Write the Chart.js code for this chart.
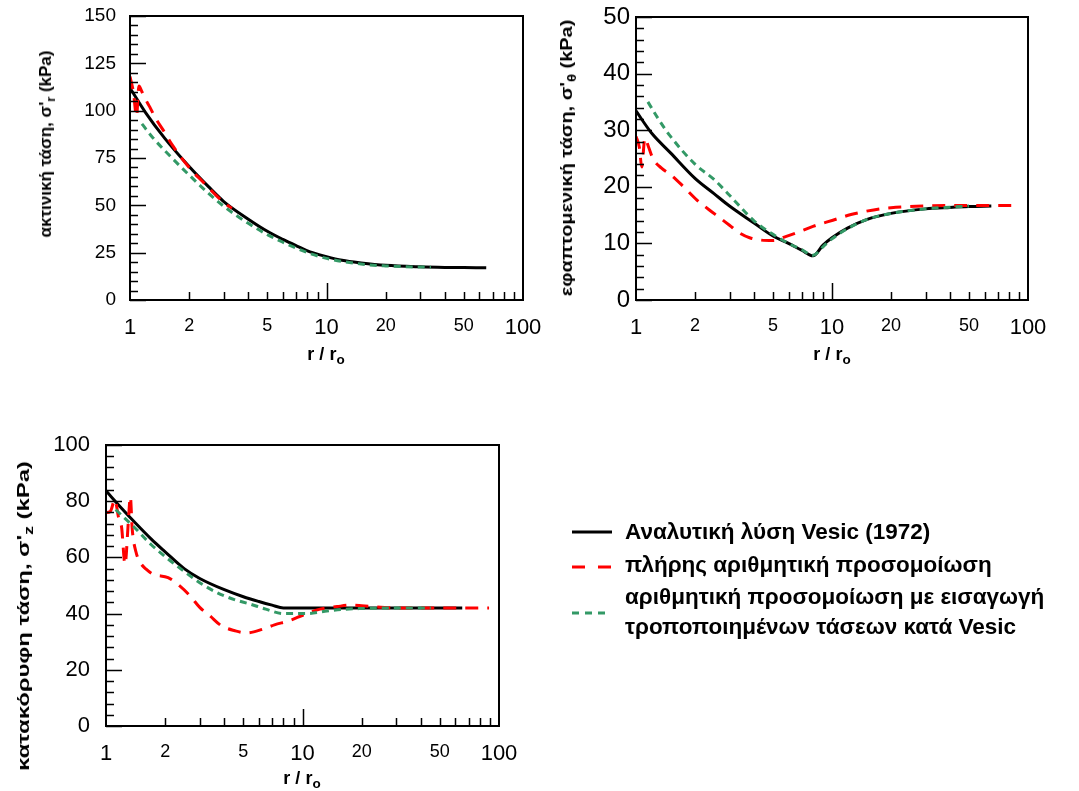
<!DOCTYPE html>
<html><head><meta charset="utf-8">
<script src="https://cdn.jsdelivr.net/npm/chart.js@4.4.0/dist/chart.umd.min.js"></script>
<style>
body{margin:0;background:#fff;width:1079px;height:791px;position:relative;overflow:hidden;font-family:"Liberation Sans",Arial,sans-serif;color:#000;}
.cw{position:absolute;}
.ytitle{position:absolute;font-weight:bold;white-space:nowrap;}
.xtitle{position:absolute;font-weight:bold;white-space:nowrap;transform:translate(-50%,-50%);font-size:18px;}
sub{font-size:0.75em;vertical-align:-0.3em;line-height:0;}
.leg{position:absolute;font-weight:bold;font-size:22.5px;line-height:30px;white-space:nowrap;}
</style></head><body>
<div class="cw" style="left:0;top:0"><canvas id="c1" width="560" height="370"></canvas></div>
<div class="cw" style="left:540px;top:0"><canvas id="c2" width="539" height="370"></canvas></div>
<div class="cw" style="left:0;top:420px"><canvas id="c3" width="540" height="371"></canvas></div>

<div class="ytitle" style="left:46px;top:144px;font-size:17px;transform:translate(-50%,-50%) rotate(-90deg)">ακτινική τάση, σ'<sub>r</sub> (kPa)</div>
<div class="ytitle" style="left:567px;top:158px;font-size:17px;transform:translate(-50%,-50%) rotate(-90deg) scaleX(1.17)">εφαπτομενική τάση, σ'<sub>θ</sub> (kPa)</div>
<div class="ytitle" style="left:24px;top:616px;font-size:17px;transform:translate(-50%,-50%) rotate(-90deg) scaleX(1.4)">κατακόρυφη τάση, σ'<sub>z</sub> (kPa)</div>

<div class="xtitle" style="left:326px;top:354px">r / r<sub>o</sub></div>
<div class="xtitle" style="left:832px;top:354px">r / r<sub>o</sub></div>
<div class="xtitle" style="left:302px;top:778px">r / r<sub>o</sub></div>

<svg style="position:absolute;left:0;top:0" width="1079" height="791">
<line x1="572" y1="532" x2="612" y2="532" stroke="#000" stroke-width="3"/>
<line x1="572" y1="567" x2="612" y2="567" stroke="#ff0000" stroke-width="3" stroke-dasharray="13 13"/>
<line x1="572" y1="613" x2="607" y2="613" stroke="#339966" stroke-width="3" stroke-dasharray="7 6"/>
</svg>
<div class="leg" style="left:625px;top:517px">Αναλυτική λύση Vesic (1972)</div>
<div class="leg" style="left:625px;top:550px">πλήρης αριθμητική προσομοίωση</div>
<div class="leg" style="left:625px;top:582px">αριθμητική προσομοίωση με εισαγωγή<br>τροποποιημένων τάσεων κατά Vesic</div>

<script>
// ---- shared axis ticks ----
const X_TICKS = [1, 2, 5, 10, 20, 50, 100];
const X_MINOR = [2, 3, 4, 5, 6, 7, 8, 9, 20, 30, 40, 50, 60, 70, 80, 90];
const X_LONG = [10];
const X_BIG_LABELS = [1, 10, 100];

// ---- radial stress σ'r ----
const SR_Y_TICKS = [0, 25, 50, 75, 100, 125, 150];
const SR_VESIC_R = [1, 1.2, 1.5, 2, 2.5, 3, 4, 5, 6, 7, 8, 8.5, 10, 12, 15, 20, 30, 40, 50, 65];
const SR_VESIC_V = [112, 99, 85.5, 70.5, 60, 52, 42.7, 36.3, 32, 28.7, 26, 25, 22.9, 21, 19.6, 18.3, 17.5, 17.2, 17.1, 17];
const SR_FULL_R = [1, 1.04, 1.08, 1.11, 1.15, 1.2, 1.26, 1.35, 1.47, 1.65, 1.86, 2.1, 2.32, 2.7, 3.04, 3.3];
const SR_FULL_V = [118, 110, 97, 113, 110, 106, 102, 96, 90, 81.5, 74, 67.5, 63, 56, 51, 48.5];
const SR_MOD_R = [1.15, 1.3, 1.5, 2, 2.5, 3, 4, 5, 6, 8, 10, 15, 20, 25, 34];
const SR_MOD_V = [93, 86, 79, 66, 56.5, 49.5, 40.5, 34.5, 30.5, 25, 22, 19, 18, 17.6, 17.3];

// ---- tangential stress σ'θ ----
const ST_Y_TICKS = [0, 10, 20, 30, 40, 50];
const ST_VESIC_R = [1, 1.2, 1.5, 2, 2.5, 3, 4, 5, 6, 7, 8, 9, 10, 12, 15, 20, 30, 40, 50, 65];
const ST_VESIC_V = [33.4, 29.5, 26, 21.5, 18.8, 16.6, 13.6, 11.3, 10, 8.8, 7.8, 9.7, 11, 12.7, 14.2, 15.3, 16.1, 16.35, 16.5, 16.6];
const ST_FULL_R = [1, 1.04, 1.07, 1.11, 1.16, 1.22, 1.35, 1.52, 1.75, 2.04, 2.35, 2.68, 3.0, 3.39, 3.8, 4.3, 5, 5.8, 6.85, 8, 10.1, 12.5, 15, 17.5, 20, 25, 30, 40, 50, 70, 89];
const ST_FULL_V = [28.9, 27, 23.5, 28.6, 27, 25, 23.3, 22, 20, 17.7, 16, 14.5, 13.2, 11.8, 11, 10.6, 10.5, 11.2, 12.1, 13, 14.1, 15.1, 15.7, 16.1, 16.3, 16.5, 16.6, 16.7, 16.7, 16.7, 16.7];
const ST_MOD_R = [1.15, 1.3, 1.5, 2, 2.5, 3, 4, 5, 6, 7, 8, 9, 10, 12, 15, 20, 30, 40, 50];
const ST_MOD_V = [35, 32, 28.9, 24, 21.3, 18.5, 14, 11.6, 10, 8.9, 7.9, 9.4, 10.8, 12.6, 14.2, 15.3, 16.1, 16.4, 16.6];

// ---- vertical stress σ'z ----
const SZ_Y_TICKS = [0, 20, 40, 60, 80, 100];
const SZ_VESIC_R = [1, 1.2, 1.4, 1.7, 2, 2.5, 3, 4, 5, 6, 7, 8, 10, 20, 40, 65];
const SZ_VESIC_V = [83.7, 77.5, 72.5, 66.5, 62, 56, 52.5, 48.5, 46, 44.3, 43, 42, 42, 42, 42, 42];
const SZ_FULL_R = [1.0, 1.05, 1.11, 1.16, 1.2, 1.25, 1.3, 1.33, 1.36, 1.42, 1.5, 1.6, 1.74, 2.07, 2.38, 2.68, 3.0, 3.38, 3.86, 4.53, 5.2, 6.3, 7.2, 8.6, 10.1, 12.3, 15, 17.5, 20, 25, 30, 40, 60, 89];
const SZ_FULL_V = [76, 76.3, 80.5, 74, 70.8, 57.6, 73, 81.6, 70, 62, 58, 55.8, 54, 52.8, 49.8, 46.3, 42.2, 39.2, 35.7, 33.9, 33.1, 34.5, 36, 37.5, 39.5, 41.6, 42.5, 43, 42.8, 42.3, 42, 42, 42, 42];
const SZ_MOD_R = [1.12, 1.2, 1.38, 1.7, 2.04, 2.5, 3, 3.66, 4.5, 5.4, 6.5, 8, 10.5, 13, 16, 20, 30, 45];
const SZ_MOD_V = [77, 75, 71, 64.5, 59.8, 55, 51, 47.5, 45, 43.4, 41.6, 40, 40, 40.8, 41.5, 41.8, 42, 42];

const LABELS = ['Αναλυτική λύση Vesic (1972)', 'πλήρης αριθμητική προσομοίωση', 'αριθμητική προσομοίωση με εισαγωγή τροποποιημένων τάσεων κατά Vesic'];
const FONT = '"Liberation Sans", Arial, sans-serif';

const frame = {
  id: 'frame',
  afterDatasetsDraw(chart, args, o) {
    const { ctx, chartArea: a, scales: { x, y } } = chart;
    ctx.save();
    ctx.strokeStyle = '#000';
    ctx.lineWidth = 1.5;
    ctx.beginPath();
    for (const v of X_MINOR) {
      const px = Math.round(x.getPixelForValue(v)) + 0.5;
      ctx.moveTo(px, a.bottom); ctx.lineTo(px, a.bottom - 8);
    }
    for (const v of X_LONG) {
      const px = Math.round(x.getPixelForValue(v)) + 0.5;
      ctx.moveTo(px, a.bottom); ctx.lineTo(px, a.bottom - 17);
    }
    for (let v = o.yMin; v <= o.yMax + 1e-9; v += o.yMinor) {
      const py = Math.round(y.getPixelForValue(v)) + 0.5;
      const major = Math.abs(v / o.yMajor - Math.round(v / o.yMajor)) < 1e-6;
      ctx.moveTo(a.left, py); ctx.lineTo(a.left + (major ? 16 : 8), py);
    }
    ctx.stroke();
    ctx.lineWidth = 2;
    ctx.strokeRect(a.left, a.top, a.right - a.left, a.bottom - a.top);
    ctx.restore();
  }
};

function pts(rs, vs) { return rs.map((r, i) => ({ x: r, y: vs[i] })); }
function ds(label, data, color, dash, order) {
  return { label, data, borderColor: color, backgroundColor: color, borderWidth: 3, borderDash: dash,
    pointRadius: 0, fill: false, order, cubicInterpolationMode: 'monotone', borderCapStyle: 'butt' };
}

function makeChart(id, c) {
  new Chart(document.getElementById(id), {
    type: 'line',
    data: { datasets: [
      ds(LABELS[0], pts(c.vr, c.vv), '#000000', [], 3),
      ds(LABELS[1], pts(c.fr, c.fv), '#ff0000', [13, 9], 2),
      ds(LABELS[2], pts(c.mr, c.mv), '#339966', [7, 5], 1)
    ] },
    options: {
      responsive: false, animation: false, events: [],
      layout: { padding: { top: c.padTop, right: c.padRight, left: 0, bottom: 0 } },
      plugins: { legend: { display: false }, tooltip: { enabled: false },
        frame: { yMin: c.yTicks[0], yMax: c.yTicks[c.yTicks.length - 1], yMajor: c.yTicks[1] - c.yTicks[0], yMinor: c.yMinor } },
      scales: {
        x: { type: 'logarithmic', min: 1, max: 100,
          afterBuildTicks: s => { s.ticks = X_TICKS.map(v => ({ value: v })); },
          afterFit: s => { s.height = c.xh; },
          grid: { display: false, drawTicks: false }, border: { display: false },
          ticks: { autoSkip: false, maxRotation: 0, padding: 15, color: '#000',
            font: ctx => ({ family: FONT, size: X_BIG_LABELS.includes(ctx.tick && ctx.tick.value) ? 22 : 18 }),
            callback: v => String(v) } },
        y: { min: c.yTicks[0], max: c.yTicks[c.yTicks.length - 1],
          afterBuildTicks: s => { s.ticks = c.yTicks.map(v => ({ value: v })); },
          afterFit: s => { s.width = c.yw; s.paddingTop = 0; s.paddingBottom = 0; },
          grid: { display: false, drawTicks: false }, border: { display: false },
          ticks: { padding: c.ypad, color: '#000', font: { family: FONT, size: c.yfs } } }
      }
    },
    plugins: [frame]
  });
}

makeChart('c1', { vr: SR_VESIC_R, vv: SR_VESIC_V, fr: SR_FULL_R, fv: SR_FULL_V, mr: SR_MOD_R, mv: SR_MOD_V,
  yTicks: SR_Y_TICKS, yMinor: 5, yw: 130, padTop: 16, padRight: 37, xh: 70, ypad: 14, yfs: 19 });
makeChart('c2', { vr: ST_VESIC_R, vv: ST_VESIC_V, fr: ST_FULL_R, fv: ST_FULL_V, mr: ST_MOD_R, mv: ST_MOD_V,
  yTicks: ST_Y_TICKS, yMinor: 2, yw: 96, padTop: 17, padRight: 51, xh: 70, ypad: 6, yfs: 24 });
makeChart('c3', { vr: SZ_VESIC_R, vv: SZ_VESIC_V, fr: SZ_FULL_R, fv: SZ_FULL_V, mr: SZ_MOD_R, mv: SZ_MOD_V,
  yTicks: SZ_Y_TICKS, yMinor: 4, yw: 106, padTop: 25, padRight: 41, xh: 65, ypad: 16, yfs: 22 });
</script>
</body></html>
